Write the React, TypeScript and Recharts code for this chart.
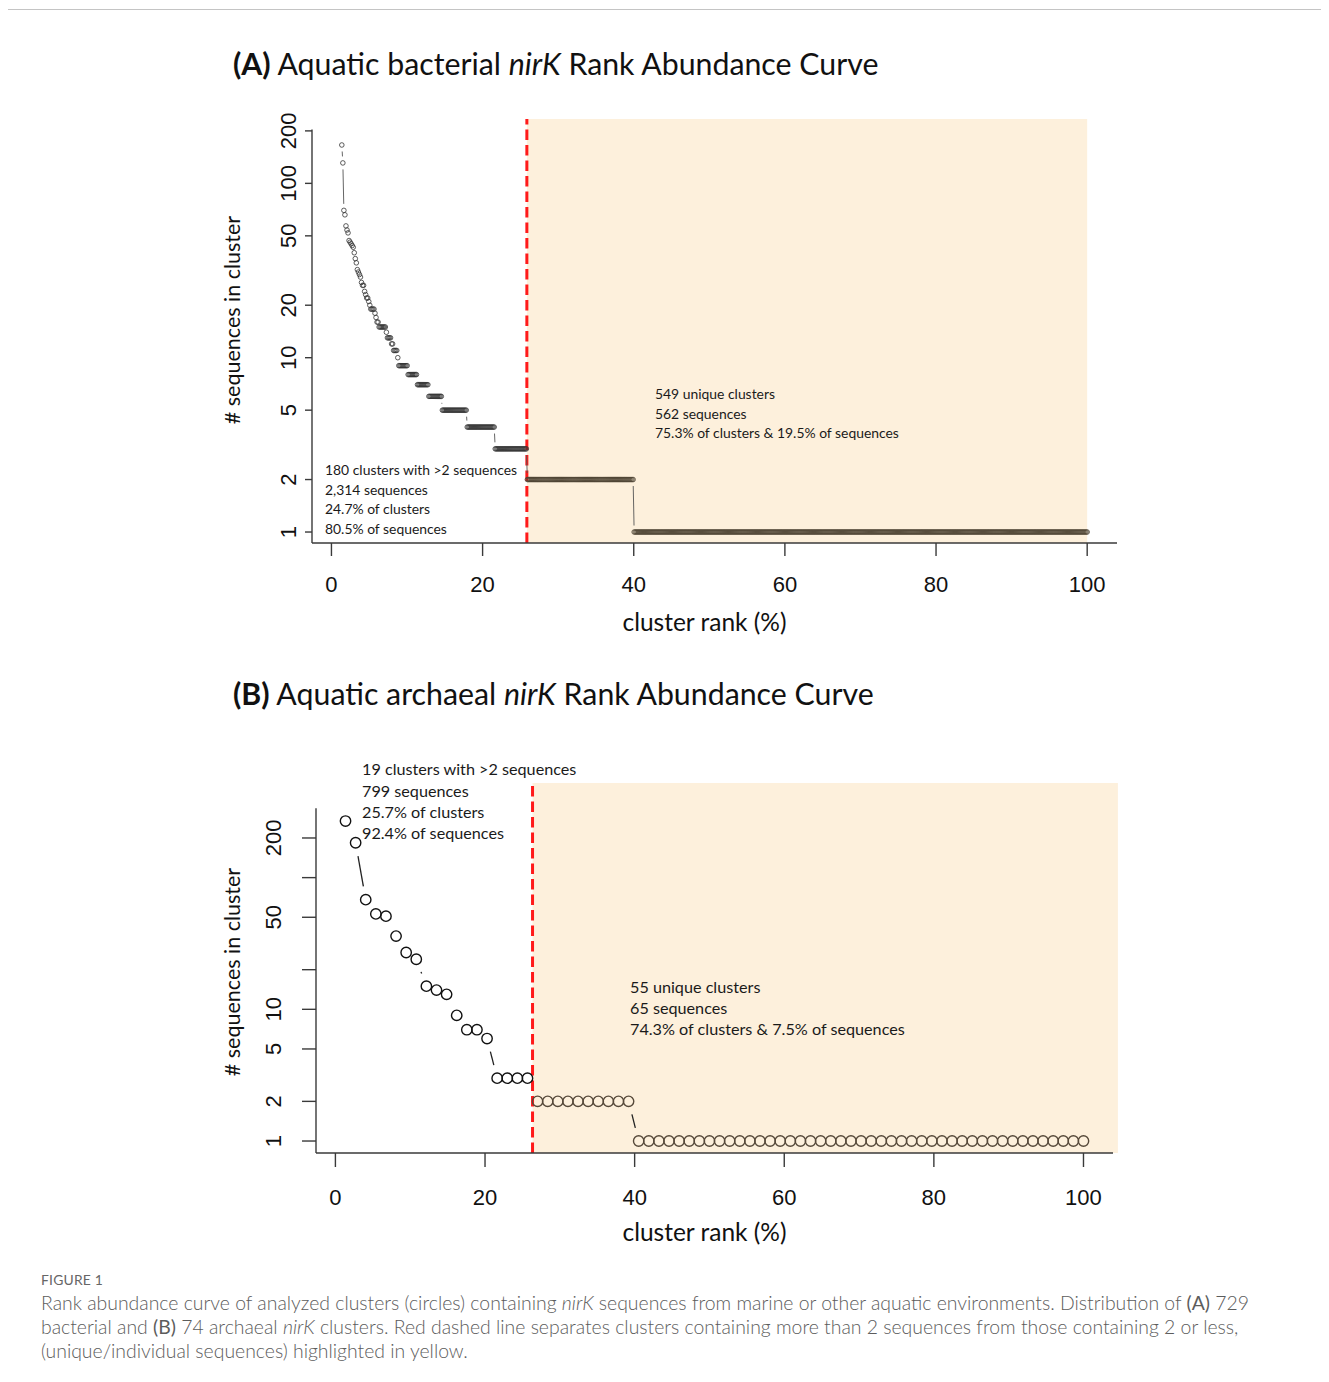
import React from 'react'
import { ScatterChart, Scatter, XAxis, YAxis, ReferenceArea, ReferenceLine } from 'recharts'

// ---------- data ----------
const X_TICKS = [0, 20, 40, 60, 80, 100]
const Y_TICKS = [1, 2, 5, 10, 20, 50, 100, 200]
const A_Y_LABELS = ['1', '2', '5', '10', '20', '50', '100', '200']
const B_Y_LABELS = ['1', '2', '5', '10', '', '50', '', '200']

// (A) bacterial: 729 clusters, first plotted rank sits at ~1.37 %
const A_TOTAL = 729
const A_FIRST_RANK = 10
const A_TOP = [
  166, 131, 70, 66, 57, 54, 52, 47, 46, 45,
  44, 43, 40, 37, 35, 32, 31, 30, 29, 27,
  26, 26, 24, 23, 22, 22, 21, 20, 19, 19,
  19, 19, 18, 17, 16, 16, 15, 15, 15, 15,
  15, 15, 15, 14, 13, 13, 13, 13, 12, 12,
]
const A_RUN_VALUES = [11, 10, 9, 8, 7, 6, 5, 4, 3, 2, 1]
const A_RUN_COUNTS = [4, 1, 9, 9, 11, 13, 24, 27, 31, 103, 438]

// (B) archaeal: 74 clusters
const B_TOTAL = 74
const B_FIRST_RANK = 1
const B_TOP = [269, 184, 68, 53, 51, 36, 27, 24, 15, 14, 13, 9, 7, 7, 6]
const B_RUN_VALUES = [3, 2, 1]
const B_RUN_COUNTS = [4, 10, 45]

const A_NOTE_LEFT = ['180 clusters with >2 sequences', '2,314 sequences', '24.7% of clusters', '80.5% of sequences']
const A_NOTE_RIGHT = ['549 unique clusters', '562 sequences', '75.3% of clusters & 19.5% of sequences']
const B_NOTE_LEFT = ['19 clusters with >2 sequences', '799 sequences', '25.7% of clusters', '92.4% of sequences']
const B_NOTE_RIGHT = ['55 unique clusters', '65 sequences', '74.3% of clusters & 7.5% of sequences']

// ---------- helpers ----------
type Pt = { x: number; y: number }

function buildPoints(top: number[], runV: number[], runC: number[], first: number, total: number): Pt[] {
  const vals = [...top]
  runV.forEach((v, i) => {
    for (let k = 0; k < runC[i]; k++) vals.push(v)
  })
  return vals.map((v, i) => ({ x: ((first + i) / total) * 100, y: v }))
}

// midpoint between last cluster with >2 sequences and first with <=2
function splitX(pts: Pt[]) {
  const i = pts.findIndex(p => p.y <= 2)
  return (pts[i - 1].x + pts[i].x) / 2
}

// R style 4% range extension
function xDomain(pts: Pt[]): [number, number] {
  const lo = pts[0].x
  const hi = pts[pts.length - 1].x
  const pad = (hi - lo) * 0.04
  return [lo - pad, hi + pad]
}
function yAxisTop(pts: Pt[]) {
  const ys = pts.map(p => Math.log10(p.y))
  const hi = Math.max(...ys)
  const lo = Math.min(...ys)
  return Math.pow(10, hi + (hi - lo) * 0.04)
}

const A_PTS = buildPoints(A_TOP, A_RUN_VALUES, A_RUN_COUNTS, A_FIRST_RANK, A_TOTAL)
const B_PTS = buildPoints(B_TOP, B_RUN_VALUES, B_RUN_COUNTS, B_FIRST_RANK, B_TOTAL)

const TICK_FONT = '"Liberation Sans", Arial, sans-serif'
const TEXT_FONT = 'Lato, "Open Sans", sans-serif'

const makeGapLine = (gap: number, stroke: string, width: number) => (props: any) => {
  const pts = props.points || []
  const segs: React.ReactNode[] = []
  for (let i = 1; i < pts.length; i++) {
    const a = pts[i - 1]
    const b = pts[i]
    const dx = b.x - a.x
    const dy = b.y - a.y
    const d = Math.hypot(dx, dy)
    if (!(d > 2 * gap)) continue
    const ux = dx / d
    const uy = dy / d
    segs.push(
      <line key={i} x1={a.x + ux * gap} y1={a.y + uy * gap} x2={b.x - ux * gap} y2={b.y - uy * gap}
        stroke={stroke} strokeWidth={width} />
    )
  }
  return <g>{segs}</g>
}

const makeCircle = (r: number, sw: number, plain: string, tinted: string, split: number) => (props: any) => {
  const { cx, cy, payload } = props
  if (cx == null || cy == null) return <g />
  return (
    <circle cx={cx} cy={cy} r={r} fill='none'
      stroke={payload && payload.x > split ? tinted : plain} strokeWidth={sw} />
  )
}

const YTick = ({ x, y, payload, labels }: any) => {
  const label = labels[Y_TICKS.indexOf(payload.value)]
  return (
    <text x={x} y={y} transform={`rotate(-90 ${x} ${y})`} textAnchor='middle'
      fontSize={22} fontFamily={TICK_FONT} fill='#111'>{label}</text>
  )
}

const XTitle = ({ viewBox, text, dx, dy }: any) => (
  <text x={viewBox.x + viewBox.width / 2 + dx} y={viewBox.y + dy} textAnchor='middle'
    dominantBaseline='central' fontSize={24.5} fontFamily={TEXT_FONT} fill='#111'>{text}</text>
)

const YTitle = ({ viewBox, text, off, dy }: any) => {
  const x = viewBox.x + viewBox.width - off
  const y = viewBox.y + viewBox.height / 2 + dy
  return (
    <text x={x} y={y} transform={`rotate(-90 ${x} ${y})`} textAnchor='middle'
      dominantBaseline='central' fontSize={21.5} fontFamily={TEXT_FONT} fill='#111'>{text}</text>
  )
}

type PanelCfg = {
  pts: Pt[]
  left: number
  top: number
  margin: { top: number; right: number; bottom: number; left: number }
  yWidth: number
  xHeight: number
  yDomain: [number, number]
  labels: string[]
  yTickSize: number
  yTickMargin: number
  xTickSize: number
  xTickMargin: number
  r: number
  sw: number
  gap: number
  plain: string
  tinted: string
  lineColor: string
  lineWidth: number
  shadeEnd: number
  yTitleOff: number
  yTitleDy: number
  xTitleDy: number
}

function Panel({ cfg }: { cfg: PanelCfg }) {
  const split = splitX(cfg.pts)
  const [x0, x1] = xDomain(cfg.pts)
  const yTop = yAxisTop(cfg.pts)
  const yLow = cfg.yDomain[0]
  const axisColor = '#3a3a3a'
  return (
    <div style={{ position: 'absolute', left: cfg.left, top: cfg.top }}>
      <ScatterChart width={950} height={560} margin={cfg.margin}>
        <XAxis type='number' dataKey='x' domain={[x0, x1]} allowDataOverflow ticks={X_TICKS}
          tickSize={cfg.xTickSize} tickMargin={cfg.xTickMargin} height={cfg.xHeight}
          axisLine={{ stroke: axisColor, strokeWidth: 1.4 }} tickLine={{ stroke: axisColor, strokeWidth: 1.4 }}
          tick={{ fontSize: 22, fontFamily: TICK_FONT, fill: '#111' }}
          label={<XTitle text='cluster rank (%)' dx={-10} dy={cfg.xTitleDy} />} />
        <YAxis type='number' dataKey='y' scale='log' domain={cfg.yDomain} allowDataOverflow ticks={Y_TICKS}
          width={cfg.yWidth} tickSize={cfg.yTickSize} tickMargin={cfg.yTickMargin}
          axisLine={false} tickLine={{ stroke: axisColor, strokeWidth: 1.4 }}
          tick={<YTick labels={cfg.labels} />}
          label={<YTitle text='# sequences in cluster' off={cfg.yTitleOff} dy={cfg.yTitleDy} />} />
        <ReferenceArea x1={split} x2={cfg.shadeEnd} y1={cfg.yDomain[0]} y2={cfg.yDomain[1]}
          fill='#fdf0dc' fillOpacity={1} stroke='none' ifOverflow='visible' />
        <ReferenceLine segment={[{ x: x0, y: yLow }, { x: x0, y: yTop }]} stroke={axisColor}
          strokeWidth={1.4} ifOverflow='visible' />
        <Scatter data={cfg.pts} isAnimationActive={false}
          shape={makeCircle(cfg.r, cfg.sw, cfg.plain, cfg.tinted, split)}
          line={makeGapLine(cfg.gap, cfg.lineColor, cfg.lineWidth)} />
        <ReferenceLine x={split} stroke='#ff1a1a' strokeWidth={3} strokeDasharray='10.5 5'
          ifOverflow='visible' />
      </ScatterChart>
    </div>
  )
}

const A_CFG: PanelCfg = {
  pts: A_PTS, left: 200, top: 100,
  margin: { top: 19, right: 33, bottom: 0, left: 0 },
  yWidth: 112, xHeight: 117, yDomain: [0.865, 234], labels: A_Y_LABELS,
  yTickSize: 7, yTickMargin: 9, xTickSize: 13, xTickMargin: 20,
  r: 2.3, sw: 0.8, gap: 6.5, plain: '#333', tinted: '#4e4434',
  lineColor: '#555', lineWidth: 0.9,
  shadeEnd: A_PTS[A_PTS.length - 1].x,
  yTitleOff: 80, yTitleDy: -11, xTitleDy: 78,
}

const B_CFG: PanelCfg = {
  pts: B_PTS, left: 200, top: 740,
  margin: { top: 43, right: 37, bottom: 0, left: 0 },
  yWidth: 116, xHeight: 147, yDomain: [0.811, 523], labels: B_Y_LABELS,
  yTickSize: 14, yTickMargin: 21, xTickSize: 14, xTickMargin: 22,
  r: 5.2, sw: 1.4, gap: 13.5, plain: '#111', tinted: '#56493a',
  lineColor: '#222', lineWidth: 1.3,
  shadeEnd: 104.6,
  yTitleOff: 84, yTitleDy: 4, xTitleDy: 78,
}

function Note({ lines, left, top, lh, size }: { lines: string[]; left: number; top: number; lh: number; size: number }) {
  return (
    <div style={{ position: 'absolute', left, top: top - lh / 2, fontFamily: TEXT_FONT, fontSize: size,
      lineHeight: `${lh}px`, color: '#1a1a1a', whiteSpace: 'nowrap' }}>
      {lines.map((l, i) => <div key={i}>{l}</div>)}
    </div>
  )
}

function Title({ tag, a, b, top }: { tag: string; a: string; b: string; top: number }) {
  return (
    <div style={{ position: 'absolute', left: 233, top: top - 21, height: 42, lineHeight: '42px',
      fontFamily: TEXT_FONT, fontSize: 30.3, color: '#111', whiteSpace: 'nowrap' }}>
      <b>{tag}</b> {a} <i>nirK</i> {b}
    </div>
  )
}

const CAP_STYLE: React.CSSProperties = {
  position: 'absolute', left: 41, fontFamily: TEXT_FONT, fontWeight: 300, fontSize: 19.4,
  color: '#5c5c5c', whiteSpace: 'nowrap', height: 24, lineHeight: '24px',
}

export default function App() {
  return (
    <div style={{ position: 'relative', marginLeft: -8, marginTop: -8, width: 1329, height: 1382,
      background: '#fff', overflow: 'hidden' }}>
      <div style={{ position: 'absolute', left: 7, top: 9, width: 1322, height: 1, background: '#c4c4c4' }} />
      <div style={{ position: 'absolute', left: 7, top: 9, width: 1, height: 1373, background: '#c4c4c4' }} />

      <Title tag='(A)' a='Aquatic bacterial' b='Rank Abundance Curve' top={63} />
      <Panel cfg={A_CFG} />
      <Note lines={A_NOTE_LEFT} left={325} top={470} lh={19.5} size={13.9} />
      <Note lines={A_NOTE_RIGHT} left={655} top={394} lh={19.5} size={13.9} />

      <Title tag='(B)' a='Aquatic archaeal' b='Rank Abundance Curve' top={693} />
      <Panel cfg={B_CFG} />
      <Note lines={B_NOTE_LEFT} left={362} top={769} lh={21.3} size={16.2} />
      <Note lines={B_NOTE_RIGHT} left={630} top={986} lh={21} size={16.2} />

      <div style={{ position: 'absolute', left: 41, top: 1271, height: 18, lineHeight: '18px',
        fontFamily: TEXT_FONT, fontSize: 13.9, color: '#666', letterSpacing: 0.2 }}>FIGURE 1</div>
      <div style={{ ...CAP_STYLE, top: 1291 }}>
        Rank abundance curve of analyzed clusters (circles) containing <i>nirK</i> sequences from marine or other aquatic environments. Distribution of <b>(A)</b> 729
      </div>
      <div style={{ ...CAP_STYLE, top: 1315 }}>
        bacterial and <b>(B)</b> 74 archaeal <i>nirK</i> clusters. Red dashed line separates clusters containing more than 2 sequences from those containing 2 or less,
      </div>
      <div style={{ ...CAP_STYLE, top: 1339 }}>
        (unique/individual sequences) highlighted in yellow.
      </div>
    </div>
  )
}
